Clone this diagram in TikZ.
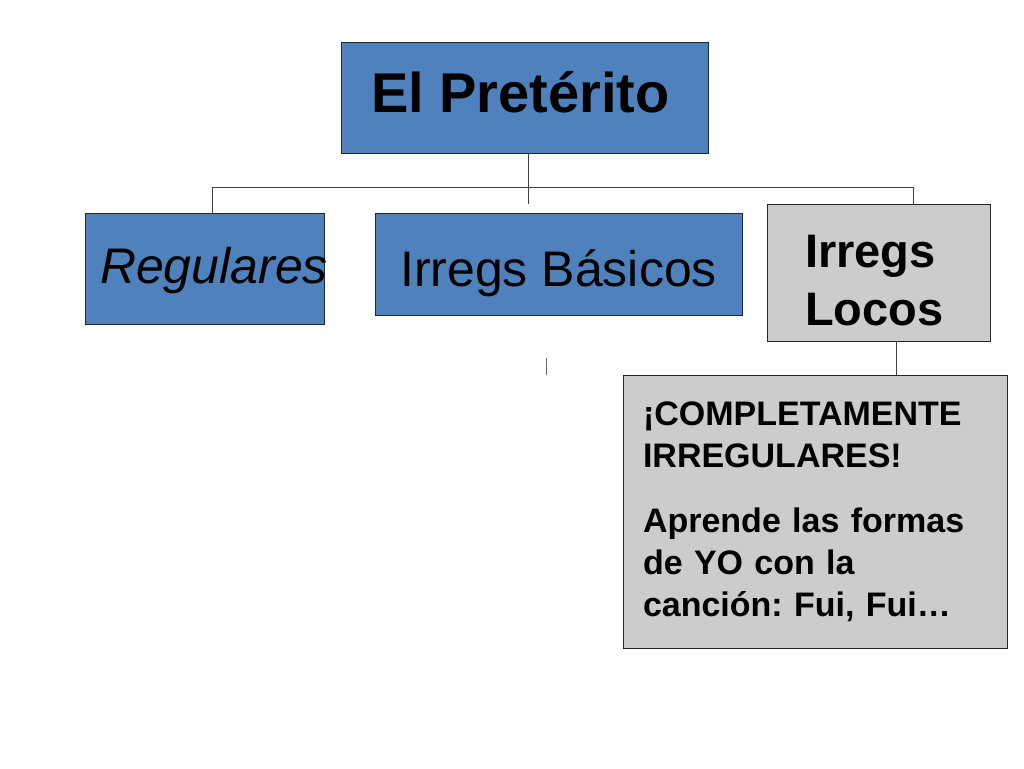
\documentclass[tikz,border=0pt]{standalone}
\usepackage{fontspec}
\setmainfont{Liberation Sans}
\usetikzlibrary{positioning}

\definecolor{boxblue}{HTML}{4F81BD}
\definecolor{boxgray}{HTML}{CCCCCC}

\begin{document}
\frenchspacing
\begin{tikzpicture}[x=1pt,y=-1pt,
  box/.style={draw=black!85,line width=0.8pt,inner sep=0pt,anchor=center},
  bluebox/.style={box,fill=boxblue},
  graybox/.style={box,fill=boxgray},
  link/.style={draw=black!75,line width=0.8pt}]
  \useasboundingbox (0,0) rectangle (1024,768);

  \node[bluebox,minimum width=367pt,minimum height=111pt,text height=29pt,text depth=0pt,
    font=\fontsize{56}{64}\selectfont\bfseries] (root) at (524.5,97.5) {El Pretérito\hspace*{8pt}};

  \node[bluebox,minimum width=239pt,minimum height=111pt,text height=30pt,text depth=0pt,
    font=\fontsize{50}{60}\selectfont\itshape] (reg) at (204.5,268.5)
    {\makebox[239pt][l]{\hspace*{15pt}Regulares}};
  \node[bluebox,minimum width=367pt,minimum height=102pt,text height=44pt,text depth=0pt,
    font=\fontsize{50}{60}\selectfont] (bas) at (558.5,264) {Irregs Básicos};
  \node[graybox,minimum width=223pt,minimum height=137pt,text width=147pt,align=left,
    text height=30pt,text depth=41pt,
    font=\fontsize{47}{58}\selectfont\bfseries] (loc) at (878.5,272.5) {Irregs\\Locos};

  \node[graybox,minimum width=384pt,minimum height=273pt,text width=344pt,align=left,
    font=\fontsize{34}{42}\selectfont\bfseries] (note) at (815,511.5)
    {¡COMPLETAMENTE\\IRREGULARES!\\[23pt]Aprende las formas\\de YO con la\\canción: Fui, Fui…};

  % connectors
  \coordinate (barL) at (212,187);
  \coordinate (barR) at (913,187);
  \coordinate (mid) at (528,0);
  \coordinate (drop) at (896,0);
  \coordinate (tick) at (546,358);

  \draw[link] (mid |- root.south) -- ++(0,51);
  \draw[link] (barL |- reg.north) -- (barL) -- (barR) -- (barR |- loc.north);
  \draw[link] (drop |- loc.south) -- (drop |- note.north);
  \draw[link,draw=black!60] (tick) -- ++(0,17);
\end{tikzpicture}
\end{document}
